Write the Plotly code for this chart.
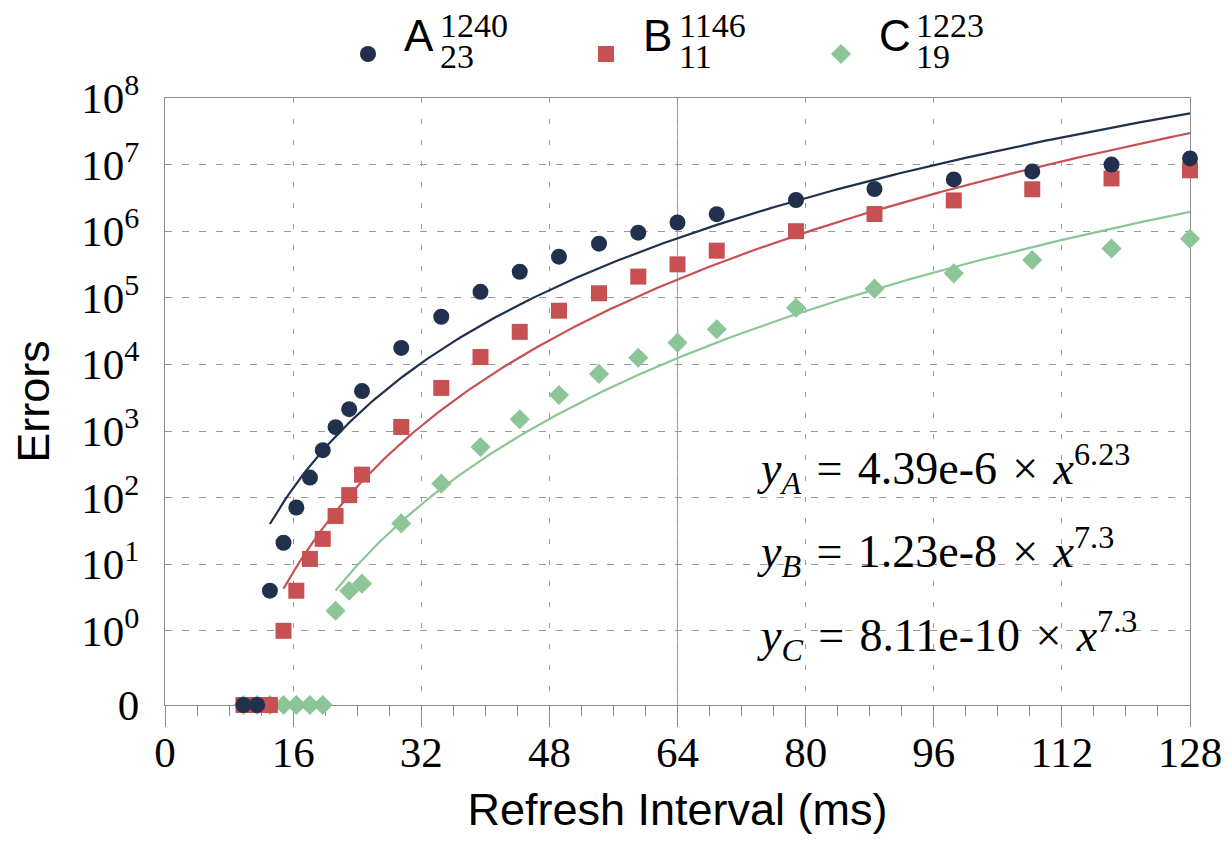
import numpy as np
import plotly.graph_objects as go

# ---------------- data ----------------
x_vals = [9.8, 11.5, 13.1, 14.8, 16.4, 18.1, 19.7, 21.3, 23.0, 24.6,
          29.5, 34.5, 39.4, 44.3, 49.2, 54.2, 59.1, 64.0, 68.9,
          78.8, 88.6, 98.5, 108.3, 118.2, 128.0]

errors_A = [0, 0, 4, 21, 71, 200, 515, 1140, 2130, 3980,
            1.77e4, 5.2e4, 1.23e5, 2.46e5, 4.15e5, 6.5e5, 9.5e5, 1.35e6, 1.8e6,
            2.94e6, 4.3e6, 6.0e6, 7.9e6, 1.0e7, 1.24e7]
errors_B = [0, 0, 0, 1, 4, 12, 24, 53, 109, 221,
            1150, 4430, 1.29e4, 3.08e4, 6.4e4, 1.17e5, 2.08e5, 3.18e5, 5.1e5,
            1.0e6, 1.81e6, 2.9e6, 4.26e6, 6.2e6, 8.2e6]
errors_C = [0, 0, 0, 0, 0, 0, 0, 2, 4, 5.1,
            41, 162, 575, 1500, 3470, 7.2e3, 1.26e4, 2.12e4, 3.37e4,
            7.1e4, 1.37e5, 2.33e5, 3.7e5, 5.5e5, 7.7e5]

# fitted models printed on the chart: y = a * x^b
fit_A = (4.39e-6, 6.23)
fit_B = (1.23e-8, 7.3)
fit_C = (8.11e-10, 7.3)

series_names = ["A", "B", "C"]
legend_sup = ["1240", "1146", "1223"]
legend_sub = ["23", "11", "19"]
x_ticks = [0, 16, 32, 48, 64, 80, 96, 112, 128]
y_exponents = [0, 1, 2, 3, 4, 5, 6, 7, 8]

# ---------------- style ----------------
COL_A = "#20304d"
COL_B = "#c75052"
COL_C = "#8cc698"
GRID = "#9a9a9a"
AXIS = "#8c8c8c"
SERIF = "Liberation Serif"
SANS = "Liberation Sans"
ZERO_LOG = -1.114          # where the '0' row sits on the log axis
ZERO_POS = 10 ** ZERO_LOG

OFF = 8                    # page body margin
W, H = 1216, 827
ML, MR, MT, MB = 157, 34, 90, 130
PW, PH = W - ML - MR, H - MT - MB


def px(x):   # screen pixel -> paper
    return (x - OFF - ML) / PW


def py(y):
    return (H - MB - (y - OFF)) / PH


def zmap(vals):
    return [ZERO_POS if v == 0 else v for v in vals]


def first_nonzero_x(vals):
    for xv, v in zip(x_vals, vals):
        if v > 0:
            return xv
    return x_vals[0]


fig = go.Figure()

# order: C at the bottom, A on top
series = [("C", errors_C, fit_C, COL_C, "diamond"),
          ("B", errors_B, fit_B, COL_B, "square"),
          ("A", errors_A, fit_A, COL_A, "circle")]

for name, vals, (a, b), col, sym in series:
    xs = np.linspace(first_nonzero_x(vals), 128, 300)
    fig.add_trace(go.Scatter(x=xs, y=a * xs ** b, mode="lines",
                             line=dict(color=col, width=2.2),
                             showlegend=False, hoverinfo="skip"))

for name, vals, (a, b), col, sym in series:
    fig.add_trace(go.Scatter(x=x_vals, y=zmap(vals), mode="markers", name=name,
                             marker=dict(color=col, size=16 if sym != "diamond" else 15.5,
                                         symbol=sym, line=dict(width=0)),
                             cliponaxis=False, showlegend=False))

# solid vertical line at 64
fig.add_shape(type="line", x0=64, x1=64, xref="x", yref="paper", y0=0, y1=1,
              line=dict(color="#a8a8a8", width=1.2), layer="below")

# ---------------- custom legend ----------------
leg_marker_x = [368, 606, 841]
leg_letter_x = [402, 641, 877]
leg_num_x = [438, 677, 914]
leg_cols = [COL_A, COL_B, COL_C]
leg_syms = ["circle", "square", "diamond"]
LEG_Y = 54
for i in range(3):
    cx, cy = px(leg_marker_x[i]), py(LEG_Y)
    if leg_syms[i] == "circle":
        fig.add_shape(type="circle", xref="paper", yref="paper",
                      xsizemode="pixel", ysizemode="pixel", xanchor=cx, yanchor=cy,
                      x0=-8, x1=8, y0=-8, y1=8,
                      fillcolor=leg_cols[i], line=dict(width=0))
    elif leg_syms[i] == "square":
        fig.add_shape(type="rect", xref="paper", yref="paper",
                      xsizemode="pixel", ysizemode="pixel", xanchor=cx, yanchor=cy,
                      x0=-8, x1=8, y0=-8, y1=8,
                      fillcolor=leg_cols[i], line=dict(width=0))
    else:
        fig.add_shape(type="path", xref="paper", yref="paper",
                      xsizemode="pixel", ysizemode="pixel", xanchor=cx, yanchor=cy,
                      path="M -10 0 L 0 10 L 10 0 L 0 -10 Z",
                      fillcolor=leg_cols[i], line=dict(width=0))
    fig.add_annotation(text=series_names[i], xref="paper", yref="paper",
                       x=px(leg_letter_x[i]), y=py(35), xanchor="left", yanchor="middle",
                       showarrow=False, font=dict(family=SANS, size=44, color="black"))
    fig.add_annotation(text=legend_sup[i], xref="paper", yref="paper",
                       x=px(leg_num_x[i]), y=py(25), xanchor="left", yanchor="middle",
                       showarrow=False, font=dict(family=SERIF, size=34, color="black"))
    fig.add_annotation(text=legend_sub[i], xref="paper", yref="paper",
                       x=px(leg_num_x[i]), y=py(56), xanchor="left", yanchor="middle",
                       showarrow=False, font=dict(family=SERIF, size=34, color="black"))

# ---------------- equations ----------------
eq_lines = [
    ("A", "4.39e-6", "6.23"),
    ("B", "1.23e-8", "7.3"),
    ("C", "8.11e-10", "7.3"),
]
eq_y = [468, 551, 635]
SP = "\u2004"
for (s, coef, ex), yy in zip(eq_lines, eq_y):
    txt = (f"<i>y</i><sub><i>{s}</i></sub>{SP}={SP}{coef}{SP}×{SP}"
           f"<i>x</i><sup>{ex}</sup>")
    fig.add_annotation(text=txt, xref="paper", yref="paper", x=px(755), y=py(yy),
                       xanchor="left", yanchor="middle", showarrow=False,
                       font=dict(family=SERIF, size=46, color="black"))

fig.update_layout(
    width=W, height=H,
    margin=dict(l=ML, r=MR, t=MT, b=MB, pad=0, autoexpand=False),
    plot_bgcolor="white", paper_bgcolor="white",
    showlegend=False,
    font=dict(family=SERIF, size=43, color="black"),
)

fig.update_xaxes(
    range=[0, 128], tickvals=x_ticks, ticktext=[str(t) for t in x_ticks],
    automargin=False,
    showgrid=True, gridcolor=GRID, gridwidth=1, griddash="5px,16px",
    showline=True, linecolor=AXIS, linewidth=1.2, mirror=True,
    ticks="outside", ticklen=21, tickcolor=AXIS, tickwidth=1.2,
    minor=dict(dtick=4, tick0=0, ticks="outside", ticklen=10, tickcolor=AXIS,
               tickwidth=1.2, showgrid=False),
    zeroline=False, layer="below traces",
    ticklabelstandoff=-12,
    tickfont=dict(family=SERIF, size=43, color="black"),
    title=dict(text="Refresh Interval (ms)", font=dict(family=SANS, size=45, color="black"),
               standoff=24),
)

fig.update_yaxes(
    type="log", range=[ZERO_LOG, 8],
    tickvals=[ZERO_POS] + [10 ** e for e in y_exponents],
    ticktext=["0"] + [f"10<sup>{e}</sup>" for e in y_exponents],
    automargin=False,
    showgrid=True, gridcolor=GRID, gridwidth=1, griddash="7px,10px",
    showline=True, linecolor=AXIS, linewidth=1.2, mirror=True,
    ticks="inside", ticklen=4, tickcolor=AXIS, tickwidth=1.2,
    zeroline=False, layer="below traces",
    ticklabelstandoff=16,
    tickfont=dict(family=SERIF, size=43, color="black"),
    title=dict(text="Errors", font=dict(family=SANS, size=45, color="black"),
               standoff=22),
)

fig.write_html("out.html")
